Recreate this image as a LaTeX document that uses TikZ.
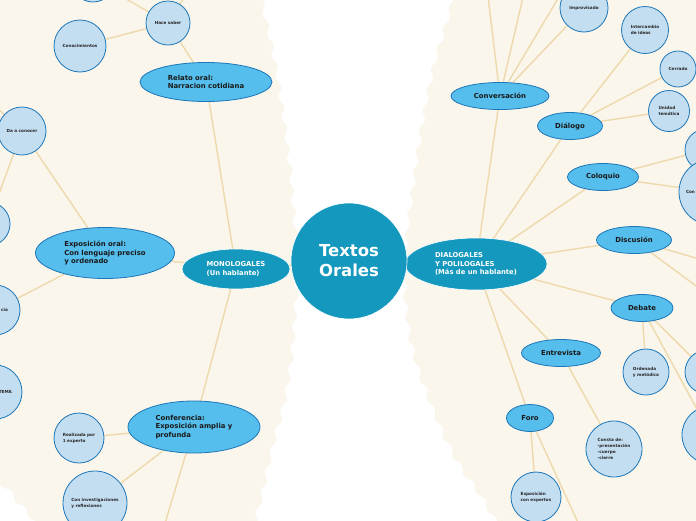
\documentclass[tikz,border=0pt]{standalone}
\usepackage{fontspec}
\setmainfont{DejaVu Sans}
\usepackage{tikz}
\usetikzlibrary{shapes.geometric,decorations.pathmorphing}
\definecolor{orCream}{RGB}{250,246,236}
\definecolor{orTeal}{RGB}{21,152,190}
\definecolor{orSky}{RGB}{86,190,236}
\definecolor{orBlue}{RGB}{28,118,184}
\definecolor{orLeafC}{RGB}{196,222,241}
\definecolor{orTan}{RGB}{238,217,172}
\pgfdeclarelayer{back}
\pgfdeclarelayer{links}
\pgfsetlayers{back,links,main}
\tikzset{
  %% Centre
  orRoot/.style={circle, fill=orTeal, draw=white, line width=0.6pt, minimum size=116pt,
    inner sep=0pt, font=\fontsize{16.5}{20}\selectfont\bfseries, align=left, text=white},
  %% Two big branches
  orBranch/.style={ellipse, fill=orTeal, draw=white, line width=0.6pt, inner sep=0pt,
    font=\fontsize{6.8}{8.2}\selectfont\bfseries, align=left, text=white},
  %% Kinds of oral texts
  orKind/.style={ellipse, fill=orSky, draw=orBlue, line width=0.8pt, inner sep=0pt,
    font=\fontsize{6.9}{8.3}\selectfont\bfseries, align=left, text=black!90},
  %% Small circles
  orLeaf/.style={circle, fill=orLeafC, draw=orBlue, line width=0.8pt, inner sep=0pt,
    font=\fontsize{4.2}{5.8}\selectfont\bfseries, align=left, text=black!85},
  %% Connectors
  orLink/.style={draw=orTan, line width=1.4pt},
  orPaper/.style={fill=orCream, decorate, decoration={snake, amplitude=2.2pt, segment length=21pt}},
}
\begin{document}
\begin{tikzpicture}[x=1pt, y=-1pt]
\useasboundingbox (0,0) rectangle (696,520);

%% Paper
\begin{pgfonlayer}{back}
\fill[white] (0,0) rectangle (696,520);
\path[orPaper] (-30,-30) -- (258,-30) -- plot[smooth] coordinates {(258,0) (271,60) (280,120)
  (287,180) (292,260) (288,340) (280,395) (268,440) (258,485) (245,540)} -- (45,540) -- (0,488)
  -- (-30,480) -- cycle;
\path[orPaper] (455,-30) -- plot[smooth] coordinates {(452,0) (434,60) (422,120) (412,190)
  (405,250) (406,300) (413,345) (426,385) (442,425) (460,460) (482,492) (510,540)}
  -- (730,540) -- (730,-30) -- cycle;
\end{pgfonlayer}

%% Branches and centre
\node[orBranch, minimum width=108pt, minimum height=40pt] (nMono) at (236,269) {MONOLOGALES\\(Un hablante)};
\node[orBranch, minimum width=142pt, minimum height=52pt] (nDia)  at (476,264) {DIALOGALES\\Y POLILOGALES\\(Más de un hablante)};
\node[orRoot] (nRoot) at (349,261) {Textos\\Orales};

%% Monologales
\node[orKind, minimum width=132pt, minimum height=39pt] (kRelato) at (206,82)  {Relato oral:\\Narracion cotidiana};
\node[orKind, minimum width=139pt, minimum height=51pt] (kExpo)   at (105,253) {Exposición oral:\\Con lenguaje preciso\\y ordenado};
\node[orKind, minimum width=132pt, minimum height=52pt] (kConf)   at (194,427) {Conferencia:\\Exposición amplia y\\profunda};

\node[orLeaf, minimum size=44pt] (lHace)   at (168,23)  {Hace saber};
\node[orLeaf, minimum size=52pt] (lConoc)  at (80,46)   {Conocimientos};
\node[orLeaf, minimum size=44pt] (lTopL)   at (93,-20)  {};
\node[orLeaf, minimum size=48pt] (lDaCon)  at (22,131)  {Da a conocer};
\node[orLeaf, minimum size=44pt] (lExpoA)  at (-12,224) {};
\node[orLeaf, minimum size=50pt, text width=26pt, align=right] (lExpoB) at (-5,310) {cia};
\node[orLeaf, minimum size=54pt, text width=34pt, align=right] (lTema)  at (-5,392) {TEMA};
\node[orLeaf, minimum size=50pt] (lRealiz) at (79,438)  {Realizada por\\1 experto};
\node[orLeaf, minimum size=64pt] (lInvest) at (95,503)  {Con investigaciones\\y reflexiones};

%% Dialogales y polilogales
\node[orKind, minimum width=98pt, minimum height=27pt] (kConv)    at (500,96)  {Conversación};
\node[orKind, minimum width=65pt, minimum height=27pt] (kDialogo) at (570,126) {Diálogo};
\node[orKind, minimum width=71pt, minimum height=27pt] (kColoq)   at (603,177) {Coloquio};
\node[orKind, minimum width=75pt, minimum height=27pt] (kDiscu)   at (634,240) {Discusión};
\node[orKind, minimum width=62pt, minimum height=27pt] (kDebate)  at (642,308) {Debate};
\node[orKind, minimum width=79pt, minimum height=27pt] (kEntrev)  at (561,353) {Entrevista};
\node[orKind, minimum width=47pt, minimum height=27pt] (kForo)    at (530,418) {Foro};

\node[orLeaf, minimum size=48pt] (lImprov)  at (584,8)   {Improvisado};
\node[orLeaf, minimum size=47pt] (lInterc)  at (645,30)  {Intercambio\\de ideas};
\node[orLeaf, minimum size=36pt] (lCerrado) at (678,69)  {Cerrado};
\node[orLeaf, minimum size=41pt] (lUnidad)  at (669,111) {Unidad\\temática};
\node[orLeaf, minimum size=42pt] (lColA)    at (706,150) {};
\node[orLeaf, minimum size=66pt, text width=52pt] (lColB) at (712,192) {Con};
\node[orLeaf, minimum size=46pt] (lOrden)   at (646,372) {Ordenada\\y metódica};
\node[orLeaf, minimum size=44pt] (lDebA)    at (707,372) {};
\node[orLeaf, minimum size=58pt] (lDebB)    at (711,435) {};
\node[orLeaf, minimum size=56pt] (lConsta)  at (614,449) {Consta de:\\-presentación\\-cuerpo\\-cierre};
\node[orLeaf, minimum size=50pt] (lForoExp) at (536,497) {Exposición\\con expertos};

%% Ends that leave the page
\coordinate (cHaceUp)   at (195,-20);
\coordinate (cDaUp)     at (-20,92);
\coordinate (cConfDown) at (160,540);
\coordinate (cConvA)    at (486,-20);
\coordinate (cConvB)    at (527,-20);
\coordinate (cConvC)    at (569,-20);
\coordinate (cDiscuA)   at (730,268);
\coordinate (cDiscuB)   at (730,311);
\coordinate (cForoDown) at (586,540);

%% Connectors
\begin{pgfonlayer}{links}
\foreach \a/\b in {nRoot/nMono, nRoot/nDia, nMono/kRelato, nMono/kExpo, nMono/kConf,
    kRelato/lHace, lHace/lConoc, lHace/lTopL, lHace/cHaceUp,
    kExpo/lDaCon, lDaCon/lExpoA, lDaCon/cDaUp, kExpo/lExpoB,
    kConf/lRealiz, kConf/lInvest, kConf/cConfDown,
    nDia/kConv, nDia/kDialogo, nDia/kColoq, nDia/kDiscu, nDia/kDebate, nDia/kEntrev, nDia/kForo,
    kConv/lImprov, kConv/cConvA, kConv/cConvB, kConv/cConvC,
    kDialogo/lInterc, kDialogo/lCerrado, kDialogo/lUnidad,
    kColoq/lColA, kColoq/lColB, kDiscu/cDiscuA, kDiscu/cDiscuB,
    kDebate/lOrden, kDebate/lDebA, kDebate/lDebB,
    kEntrev/lConsta, kForo/lForoExp, kForo/cForoDown}
  \draw[orLink] (\a) -- (\b);
\end{pgfonlayer}

\end{tikzpicture}
\end{document}
